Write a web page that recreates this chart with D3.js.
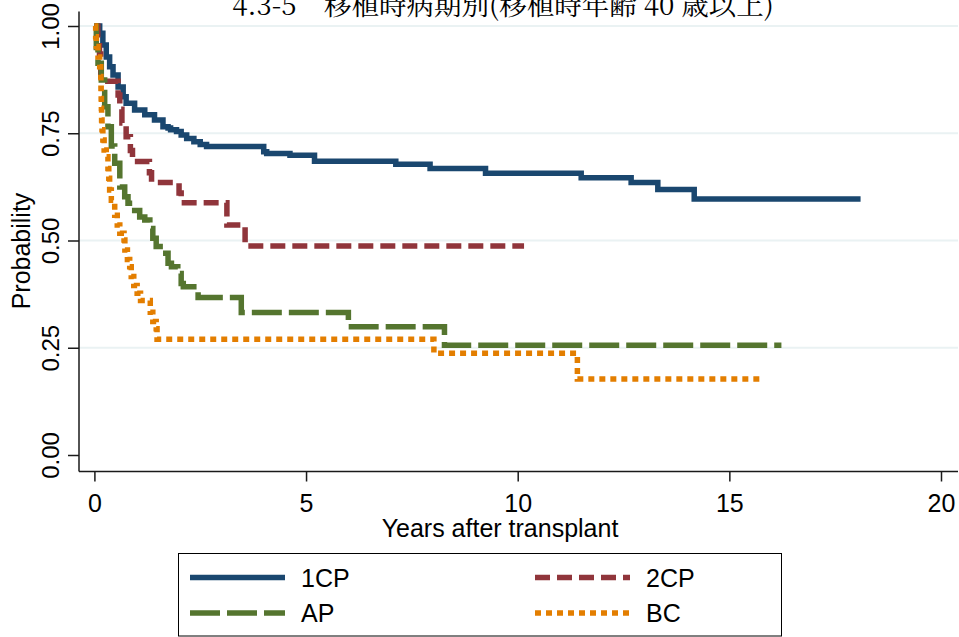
<!DOCTYPE html>
<html lang="ja">
<head>
<meta charset="UTF-8">
<title>4.3-5 移植時病期別</title>
<script src="https://d3js.org/d3.v7.min.js"></script>
<style>
  body { margin: 0; background: #fff; }
  svg { display: block; }
  .tick-label { font-family: "Liberation Sans", Arial, sans-serif; font-size: 25px; fill: #000; }
  .title { font-family: "Noto Serif CJK JP", "Liberation Serif", "Noto Sans CJK JP", serif; font-size: 27.5px; fill: #000; }
</style>
</head>
<body>
<svg width="959" height="637"></svg>
<script>
// Kaplan-Meier steps: time (years) and survival probability
const groups = ["1CP", "2CP", "AP", "BC"];
const colors = ["#1a476f", "#90353b", "#55752f", "#e37e00"];
const dashes = [null, "15,7", "30,7", "6,5"];

const cp1Time = [0, 0.125, 0.2, 0.28, 0.36, 0.44, 0.56, 0.68, 0.75, 0.95, 1.19, 1.42, 1.62, 1.74, 1.8, 1.94, 2.05, 2.18, 2.35, 2.5, 2.65, 4.0, 4.07, 4.62, 5.2, 7.12, 7.93, 9.24, 11.5, 12.68, 13.31, 14.17, 18.1];
const cp1Surv = [1, 0.983, 0.956, 0.928, 0.905, 0.886, 0.858, 0.835, 0.82, 0.804, 0.793, 0.781, 0.765, 0.762, 0.758, 0.754, 0.746, 0.738, 0.73, 0.724, 0.719, 0.707, 0.703, 0.699, 0.685, 0.678, 0.668, 0.657, 0.646, 0.635, 0.619, 0.597, 0.597];

const cp2Time = [0, 0.08, 0.12, 0.15, 0.56, 0.6, 0.65, 0.75, 0.85, 0.9, 1.3, 1.35, 2.0, 2.05, 3.13, 3.56, 10.15];
const cp2Surv = [1, 0.968, 0.935, 0.871, 0.839, 0.806, 0.774, 0.742, 0.71, 0.684, 0.658, 0.635, 0.611, 0.588, 0.536, 0.487, 0.487];

const apTime = [0, 0.045, 0.085, 0.163, 0.243, 0.32, 0.4, 0.48, 0.6, 0.716, 0.794, 0.952, 1.07, 1.19, 1.31, 1.38, 1.46, 1.62, 1.74, 1.82, 1.97, 2.05, 2.1, 2.45, 3.47, 6.0, 8.27, 16.23];
const apSurv = [1, 0.95, 0.913, 0.874, 0.812, 0.765, 0.72, 0.68, 0.625, 0.602, 0.587, 0.57, 0.555, 0.548, 0.528, 0.505, 0.486, 0.47, 0.447, 0.439, 0.423, 0.4, 0.392, 0.367, 0.332, 0.299, 0.256, 0.256];

const bcTime = [0, 0.03, 0.045, 0.085, 0.125, 0.15, 0.155, 0.16, 0.165, 0.17, 0.18, 0.2, 0.23, 0.28, 0.32, 0.34, 0.36, 0.4, 0.48, 0.54, 0.6, 0.7, 0.72, 0.78, 0.834, 0.87, 0.93, 1.01, 1.09, 1.32, 1.38, 1.46, 1.48, 8.02, 11.41, 15.81];
const bcSurv = [1, 0.975, 0.952, 0.928, 0.905, 0.882, 0.855, 0.831, 0.808, 0.781, 0.758, 0.734, 0.711, 0.695, 0.668, 0.645, 0.618, 0.594, 0.559, 0.536, 0.517, 0.501, 0.478, 0.456, 0.439, 0.416, 0.395, 0.377, 0.36, 0.333, 0.311, 0.294, 0.27, 0.237, 0.177, 0.177];

const xTicks = [0, 5, 10, 15, 20];
const yTicks = [0, 0.25, 0.5, 0.75, 1];
const yTickLabels = ["0.00", "0.25", "0.50", "0.75", "1.00"];

const series = [
  d3.zip(cp1Time, cp1Surv),
  d3.zip(cp2Time, cp2Surv),
  d3.zip(apTime, apSurv),
  d3.zip(bcTime, bcSurv)
];

const svg = d3.select("svg");

const x = d3.scaleLinear().domain([0, 20]).range([94.4, 941]);
const y = d3.scaleLinear().domain([0, 1]).range([455, 26]);

// plot region edges (axes sit a bit outside the data range, Stata style)
const plotLeft = 79, plotRight = 958, plotTop = 11.5, plotBottom = 471.5;

// gridlines (none at zero)
svg.append("g").selectAll("line")
  .data(yTicks.filter(d => d > 0))
  .enter().append("line")
    .attr("x1", plotLeft).attr("x2", plotRight)
    .attr("y1", d => y(d)).attr("y2", d => y(d))
    .attr("stroke", "#eaf2f3")
    .attr("stroke-width", 2);

// curves
const line = d3.line()
  .x(d => x(d[0]))
  .y(d => y(d[1]))
  .curve(d3.curveStepAfter);

svg.append("g").selectAll("path")
  .data(series)
  .enter().append("path")
    .attr("d", line)
    .attr("fill", "none")
    .attr("stroke", (d, i) => colors[i])
    .attr("stroke-width", 5.5)
    .attr("stroke-dasharray", (d, i) => dashes[i])
    .attr("stroke-linecap", "butt");

// axes
const xAxis = d3.axisBottom(x).tickValues(xTicks).tickSize(10).tickPadding(10).tickFormat(d3.format("d"));
const gx = svg.append("g").attr("transform", `translate(0,${plotBottom})`).call(xAxis);
gx.select(".domain").attr("d", `M${plotLeft},0H${plotRight}`);

const yAxis = d3.axisLeft(y).tickValues(yTicks).tickSize(11).tickFormat((d, i) => yTickLabels[i]);
const gy = svg.append("g").attr("transform", `translate(${plotLeft},0)`).call(yAxis);
gy.select(".domain").attr("d", `M0,${plotTop}V${plotBottom}`);

svg.selectAll(".domain, .tick line").attr("stroke", "#1a1a1a").attr("stroke-width", 1.5);

gx.selectAll("text")
  .attr("class", "tick-label")
  .attr("fill", "#000")
  .attr("y", 0).attr("dy", "1.6em")
  .style("font-size", "25px").style("font-family", "Liberation Sans, Arial, sans-serif");

gy.selectAll("text")
  .attr("class", "tick-label")
  .attr("fill", "#000")
  .attr("x", null).attr("dy", null)
  .attr("text-anchor", "middle")
  .attr("transform", "translate(-20,0) rotate(-90)")
  .style("font-size", "24px").style("font-family", "Liberation Sans, Arial, sans-serif");

// axis titles
svg.append("text")
  .attr("class", "tick-label")
  .attr("x", 500).attr("y", 537)
  .attr("text-anchor", "middle")
  .text("Years after transplant");

svg.append("text")
  .attr("class", "tick-label")
  .attr("transform", "translate(30,251) rotate(-90)")
  .attr("text-anchor", "middle")
  .text("Probability");

// title, clipped at the top edge as in the original
svg.append("text")
  .attr("class", "title")
  .attr("x", 503).attr("y", 15)
  .attr("text-anchor", "middle")
  .text("4.3-5　移植時病期別(移植時年齢 40 歳以上)");

// legend
const legend = svg.append("g");
legend.append("rect")
  .attr("x", 178.5).attr("y", 553.5)
  .attr("width", 603).attr("height", 82.5)
  .attr("fill", "#fff")
  .attr("stroke", "#000")
  .attr("stroke-width", 1);

const legX = [190, 535];
const legY = [577.5, 613];
const item = legend.selectAll(".item")
  .data(groups)
  .enter().append("g")
    .attr("class", "item")
    .attr("transform", (d, i) => `translate(${legX[i % 2]},${legY[Math.floor(i / 2)]})`);

item.append("line")
  .attr("x1", 0).attr("x2", 95)
  .attr("stroke", (d, i) => colors[i])
  .attr("stroke-width", 5.5)
  .attr("stroke-dasharray", (d, i) => dashes[i]);

item.append("text")
  .attr("class", "tick-label")
  .attr("x", 111).attr("dy", "0.36em")
  .text(d => d);
</script>
</body>
</html>
